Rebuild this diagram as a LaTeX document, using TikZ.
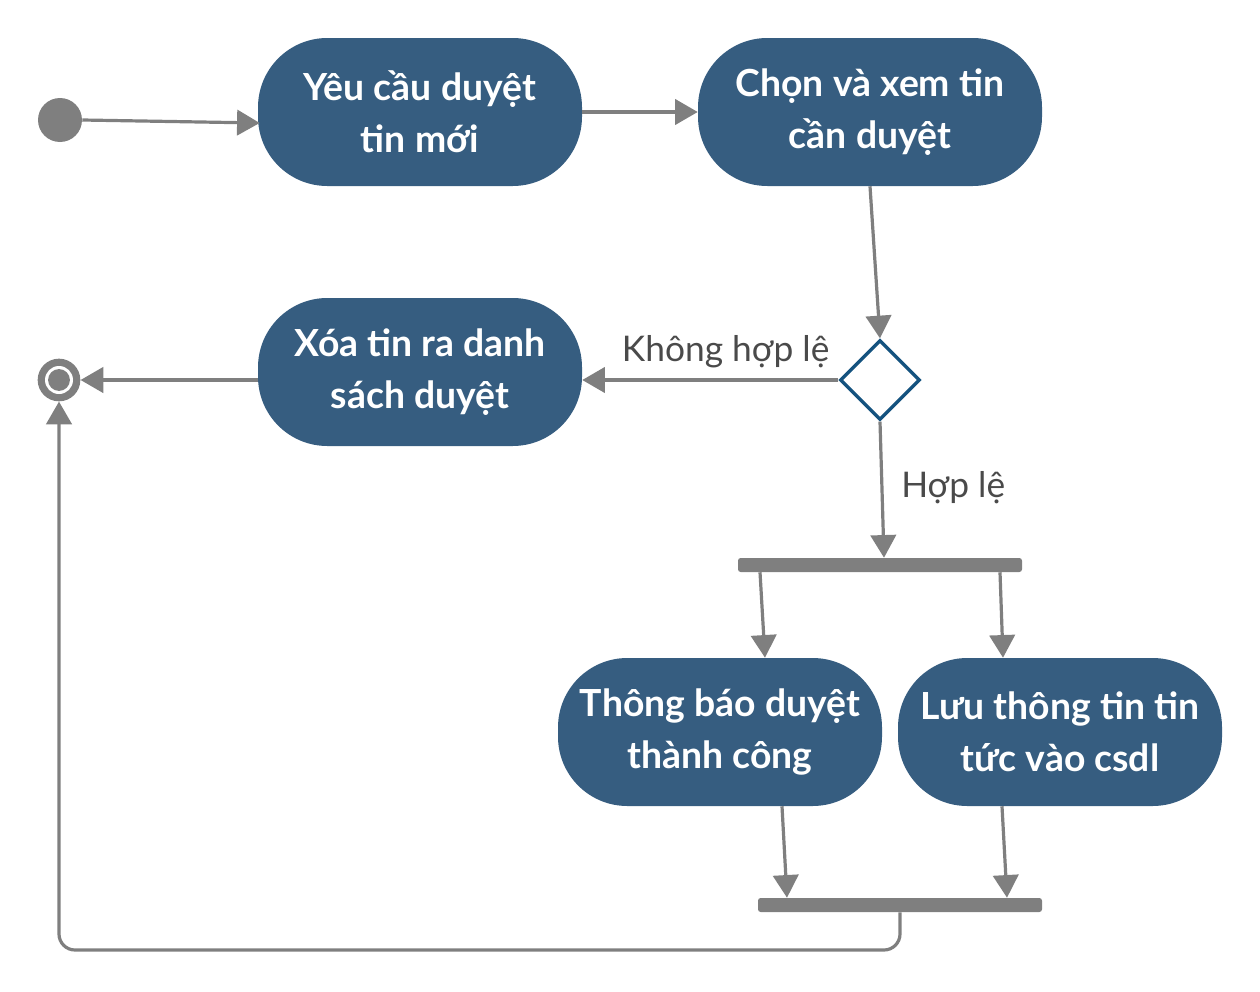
\documentclass[tikz,border=0pt]{standalone}
\usepackage{fontspec}
\setmainfont{Lato}
\usetikzlibrary{arrows.meta,calc,shapes.geometric}
\definecolor{boxblue}{HTML}{365D80}
\definecolor{lgray}{HTML}{7F7F7F}
\definecolor{diablue}{HTML}{14527F}
\definecolor{labgray}{HTML}{4A4A4A}
\begin{document}
\begin{tikzpicture}[x=0.75pt,y=-0.75pt,
  act/.style={draw=none,fill=boxblue,rounded corners=52pt,minimum width=243pt,minimum height=111pt,
    text=white,align=center,font=\fontsize{28}{39}\selectfont\bfseries,inner sep=0pt},
  conn/.style={draw=lgray,line width=2.4pt,-{Triangle[length=17pt,width=19pt]}},
  bar/.style={fill=lgray,rounded corners=2pt,minimum width=213pt,minimum height=10.5pt,inner sep=0pt},
  lab/.style={text=labgray,font=\fontsize{26.5}{30}\selectfont,inner sep=0pt}]
\useasboundingbox (0,0) rectangle (1260,992);
% nodes
\node[circle,fill=lgray,minimum size=33pt,inner sep=0pt] (startc) at (60,120) {};
\node[circle,fill=lgray,minimum size=32pt,inner sep=0pt] (endc) at (59,380) {};
\fill[white] (endc.center) circle (10.5pt);
\fill[lgray] (endc.center) circle (8.2pt);
\node[act] (A) at (420,112) {Yêu cầu duyệt\\tin mới};
\node[act,minimum width=258pt] (B) at (870,112) {Chọn và xem tin\\cần duyệt};
\node[act] (C) at (420,372) {Xóa tin ra danh\\sách duyệt};
\node[act] (D) at (720,732) {Thông báo duyệt\\thành công};
\node[act] (E) at (1060,732) {Lưu thông tin tin\\tức vào csdl};
\node[diamond,draw=diablue,fill=white,line width=2.5pt,minimum width=60pt,minimum height=60pt,inner sep=0pt] (dia) at (880,380) {};
\node[bar] (fork) at (880,565) {};
\node[bar] (join) at (900,905) {};
\coordinate (loopy) at (0,950);
% connectors
\draw[conn] (startc.east) -- ($(A.west)+(2,11)$);
\draw[conn] (A.east) -- (B.west);
\draw[conn] (B.south) -- (dia.north);
\draw[conn] (dia.west) -- (dia.west -| C.east) node[lab,pos=0.44,above=8pt] (l1) {Không hợp lệ};
\draw[conn] (endc.east -| C.west) -- (endc.east);
\draw[conn] (dia.south) -- ($(fork.north)+(4,0)$);
\node[lab,anchor=west] (l2) at (901,488) {Hợp lệ};
\draw[conn] ($(fork.south)+(-120,0)$) -- ($(D.north)+(45,0)$);
\draw[conn] ($(fork.south)+(120,0)$) -- ($(E.north)+(-57,0)$);
\draw[conn] ($(D.south)+(62,0)$) -- ($(join.north)+(-113,0)$);
\draw[conn] ($(E.south)+(-58,0)$) -- ($(join.north)+(107,0)$);
\draw[conn,rounded corners=12pt] (join.south) |- (endc.south |- loopy) -- (endc.south);
\end{tikzpicture}
\end{document}
